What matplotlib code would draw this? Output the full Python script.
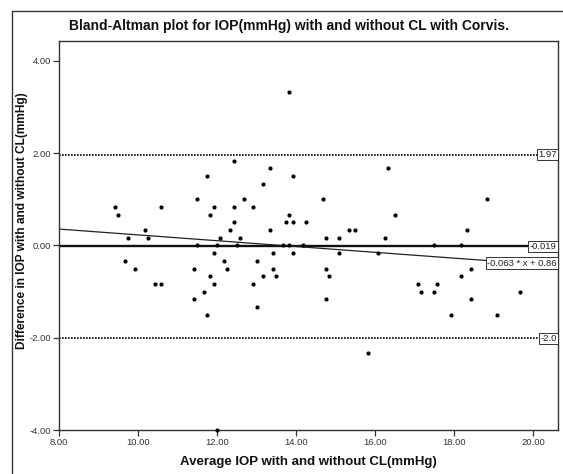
import matplotlib
matplotlib.use('Agg')
import matplotlib.pyplot as plt
import matplotlib.transforms as mtransforms
from matplotlib.lines import Line2D
import numpy as np

# Data

avgIOP = [13.82, 12.42, 11.75, 13.33, 13.92, 16.33, 13.17, 11.50, 12.67, 14.67,
          18.83, 9.42, 9.50, 10.58, 11.92, 12.42, 12.92, 11.83, 13.83, 16.50,
          12.42, 13.75, 13.92, 14.25, 10.17, 12.33, 13.33, 15.33, 15.50, 18.33,
          9.75, 10.25, 12.08, 12.58, 14.75, 15.08, 16.25,
          11.50, 12.00, 12.50, 13.67, 13.83, 14.17, 17.50, 18.17,
          9.67, 9.92, 10.42, 10.58, 11.42, 11.42, 11.67, 11.75, 11.83, 11.92,
          11.92, 12.17, 12.25, 12.92, 13.00, 13.00, 13.17, 13.42, 13.42, 13.50,
          13.92, 14.75, 14.83, 14.75, 15.08, 15.83, 16.08, 17.08, 17.17, 17.50,
          17.58, 17.92, 18.17, 18.42, 18.42, 19.08, 19.67, 12.00]

diffIOP = [3.33, 1.83, 1.50, 1.67, 1.50, 1.67, 1.33, 1.00, 1.00, 1.00,
           1.00, 0.83, 0.67, 0.83, 0.83, 0.83, 0.83, 0.67, 0.67, 0.67,
           0.50, 0.50, 0.50, 0.50, 0.33, 0.33, 0.33, 0.33, 0.33, 0.33,
           0.17, 0.17, 0.17, 0.17, 0.17, 0.17, 0.17,
           0.00, 0.00, 0.00, 0.00, 0.00, 0.00, 0.00, 0.00,
           -0.33, -0.50, -0.83, -0.83, -0.50, -1.17, -1.00, -1.50, -0.67, -0.17,
           -0.83, -0.33, -0.50, -0.83, -0.33, -1.33, -0.67, -0.17, -0.50, -0.67,
           -0.17, -0.50, -0.67, -1.17, -0.17, -2.33, -0.17, -0.83, -1.00, -1.00,
           -0.83, -1.50, -0.67, -0.50, -1.17, -1.50, -1.00, -4.00]

upperLoA = 1.97
meanDiff = -0.019
lowerLoA = -2.01
slope = -0.063
intercept = 0.86
refLabels = ['1.97', '-0.019', '-0.063 * x + 0.86', '-2.0']

xTicks = [8, 10, 12, 14, 16, 18, 20]
yTicks = [-4, -2, 0, 2, 4]

W, H = 563, 474


def main():
	plt.rcParams['font.family'] = ['Liberation Sans', 'DejaVu Sans']

	fig = plt.figure(figsize=(W / 100, H / 100), dpi=100)
	ax = fig.add_axes([59 / W, 1 - 430 / H, (558 - 59) / W, (430 - 40.7) / H])

	# outer chart frame (runs off the right and bottom edges)
	fig.add_artist(Line2D([11.5 / W, 11.5 / W, 1.0], [0.0, 1 - 11 / H, 1 - 11 / H],
	                      transform=fig.transFigure, color='#333333', lw=1.0))

	# reference lines
	ax.axhline(upperLoA, color='black', lw=1.2, dashes=(1, 0.8))
	ax.axhline(lowerLoA, color='black', lw=1.2, dashes=(1, 0.8))
	ax.axhline(meanDiff, color='#111111', lw=1.7)

	xr = np.array([8.0, 18.9])
	ax.plot(xr, np.polyval([slope, intercept], xr), color='#222222', lw=0.9)

	ax.plot(avgIOP, diffIOP, 'o', color='black', ms=3.0, mec='none', clip_on=False, zorder=5)

	# boxed labels at the right edge
	trans = mtransforms.blended_transform_factory(ax.transAxes, ax.transData)
	labelY = [upperLoA, meanDiff, np.polyval([slope, intercept], 19.7), lowerLoA]
	for lab, yv in zip(refLabels, labelY):
		ax.text(0.997, yv, lab, transform=trans, ha='right', va='center',
		        fontsize=6.8, color='#222222', zorder=6,
		        bbox=dict(boxstyle='square,pad=0.12', fc='white', ec='#333333', lw=0.7))

	ax.set_xlim(8, 20.63)
	ax.set_ylim(-4.0, 4.44)
	ax.set_xticks(xTicks)
	ax.set_yticks(yTicks)
	ax.set_xticklabels(['%.2f' % v for v in xTicks])
	ax.set_yticklabels(['%.2f' % v for v in yTicks])
	ax.tick_params(axis='both', direction='out', length=4.5, width=0.9, pad=1,
	               labelsize=6.8, labelcolor='#333333', color='#333333')
	for s in ax.spines.values():
		s.set_color('#333333')
		s.set_linewidth(1.0)

	fig.text(289 / W, 1 - 26 / H, 'Bland-Altman plot for IOP(mmHg) with and without CL with Corvis.',
	         ha='center', va='center', fontsize=10, fontweight='bold', color='#111111')
	fig.text(308 / W, 1 - 462 / H, 'Average IOP with and without CL(mmHg)',
	         ha='center', va='center', fontsize=9.5, fontweight='bold', color='#111111')
	fig.text(22 / W, 1 - 221 / H, 'Difference in IOP with and without CL(mmHg)',
	         ha='center', va='center', rotation=90, fontsize=8.6, fontweight='bold', color='#111111')

	fig.savefig('out.png', dpi=100)


if __name__ == '__main__': main()
